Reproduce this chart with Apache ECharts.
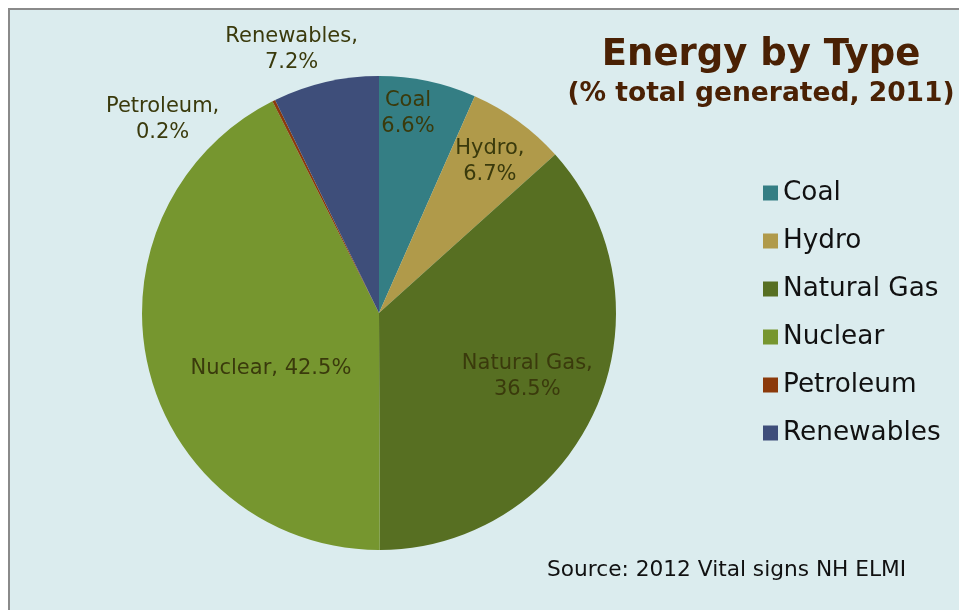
<!DOCTYPE html>
<html>
<head>
<meta charset="utf-8">
<script src="https://cdn.jsdelivr.net/npm/echarts@6/dist/echarts.min.js"></script>
<style>
  html, body { margin: 0; padding: 0; background: #ffffff; }
  #chart { width: 959px; height: 610px; }
</style>
</head>
<body>
<div id="chart"></div>
<script>
// Share of electricity generated by source, 2011 (%)
const categories = ['Coal', 'Hydro', 'Natural Gas', 'Nuclear', 'Petroleum', 'Renewables'];
const shares = [6.6, 6.7, 36.5, 42.5, 0.2, 7.2];
const sliceColors = ['#347e84', '#b09a4a', '#576f22', '#76962f', '#8b3a0b', '#3e4e7a'];

// Text placed between the category name and its value in each slice label
const labelSeparators = ['\n', ',\n', ',\n', ', ', ',\n', ',\n'];
// Label anchor: fraction of the radius along the slice mid-angle, plus a pixel nudge
const labelRadius = [0.858, 0.79, 0.68, 0.469, 1.22, 1.17];
const labelNudge = [[-13, 0], [1, 0], [1, -2], [0, 30], [-88, 66], [-25, 7]];

const CX = 379, CY = 313, R = 237;
const total = shares.reduce((a, b) => a + b, 0);
const midAngles = [];
let acc = 0;
shares.forEach(v => { midAngles.push((acc + v / 2) / total * Math.PI * 2); acc += v; });

const chart = echarts.init(document.getElementById('chart'), null, { renderer: 'canvas' });

chart.setOption({
  animation: false,
  graphic: [{
    type: 'rect',
    z: -10,
    shape: { x: 9, y: 9, width: 1000, height: 700 },
    style: { fill: '#dbecee', stroke: '#8a8a8a', lineWidth: 2 },
    silent: true
  }],
  title: [
    {
      text: 'Energy by Type',
      left: 761, top: 37, textAlign: 'center', padding: 0,
      textStyle: { fontFamily: 'DejaVu Sans', fontWeight: 'bold', fontSize: 37, lineHeight: 37, color: '#4a2104' }
    },
    {
      text: '(% total generated, 2011)',
      left: 761, top: 81, textAlign: 'center', padding: 0,
      textStyle: { fontFamily: 'DejaVu Sans', fontWeight: 'bold', fontSize: 26.5, lineHeight: 26, color: '#4a2104' }
    },
    {
      text: 'Source: 2012 Vital signs NH ELMI',
      left: 547, top: 559, padding: 0,
      textStyle: { fontFamily: 'DejaVu Sans', fontWeight: 'normal', fontSize: 21.7, lineHeight: 22, color: '#111111' }
    }
  ],
  legend: {
    orient: 'vertical',
    left: 763, top: 180,
    padding: 0,
    itemWidth: 15, itemHeight: 15,
    itemGap: 22,
    icon: 'rect',
    selectedMode: false,
    data: categories,
    textStyle: { fontFamily: 'DejaVu Sans', fontSize: 26.3, lineHeight: 26, color: '#111111' }
  },
  series: [{
    type: 'pie',
    center: [CX, CY],
    radius: [0, R],
    startAngle: 90,
    clockwise: true,
    avoidLabelOverlap: false,
    emphasis: { disabled: true },
    silent: true,
    itemStyle: { borderWidth: 0 },
    label: {
      show: true,
      position: 'inside',
      fontFamily: 'DejaVu Sans',
      fontSize: 21,
      lineHeight: 26,
      color: '#3a3a0c',
      align: 'center',
      formatter: p => p.name + labelSeparators[p.dataIndex] + p.value.toFixed(1) + '%'
    },
    labelLine: { show: false },
    labelLayout: p => {
      const i = p.dataIndex;
      const a = midAngles[i];
      const rr = labelRadius[i] * R;
      return {
        x: CX + rr * Math.sin(a) + labelNudge[i][0],
        y: CY - rr * Math.cos(a) + labelNudge[i][1],
        align: 'center',
        verticalAlign: 'middle'
      };
    },
    data: categories.map((name, i) => ({
      name,
      value: shares[i],
      itemStyle: { color: sliceColors[i] }
    }))
  }]
});
</script>
</body>
</html>
